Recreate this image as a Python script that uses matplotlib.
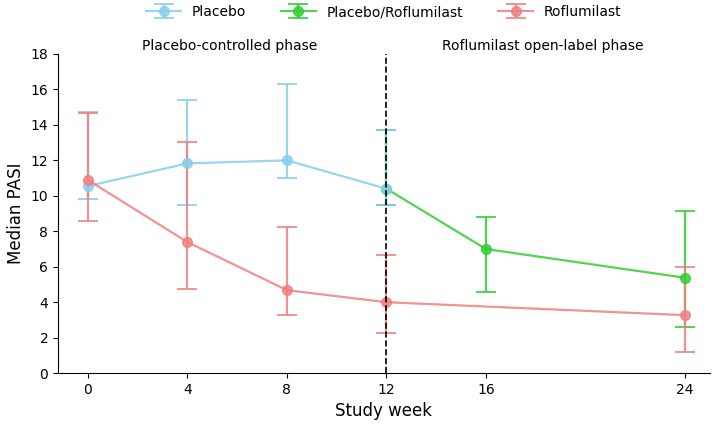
import matplotlib
matplotlib.use("Agg")
import matplotlib.pyplot as plt

weeks_pbo = [0, 4, 8, 12]
pbo = [10.55, 11.83, 12.0, 10.4]
pbo_lo = [9.8, 9.48, 11.0, 9.5]
pbo_hi = [14.7, 15.4, 16.3, 13.7]

weeks_switch = [12, 16, 24]
sw = [10.4, 7.0, 5.38]
sw_lo = [9.5, 4.59, 2.6]
sw_hi = [13.7, 8.82, 9.15]

weeks_rof = [0, 4, 8, 12, 24]
rof = [10.89, 7.39, 4.68, 4.0, 3.27]
rof_lo = [8.6, 4.74, 3.26, 2.27, 1.2]
rof_hi = [14.65, 13.04, 8.24, 6.66, 6.0]

xticks = [0, 4, 8, 12, 16, 24]

fig = plt.figure(figsize=(7.17, 4.25), dpi=100)
ax = fig.add_axes([0.081, 0.122, 0.909, 0.751])

def plot_series(x, y, lo, hi, color, label):
    yerr = [[v - l for v, l in zip(y, lo)], [h - v for v, h in zip(y, hi)]]
    return ax.errorbar(x, y, yerr=yerr, color=color, marker='o', markersize=7,
                       linewidth=1.6, elinewidth=1.6, capsize=7.5, capthick=1.4,
                       alpha=0.85, label=label)

h_sw = plot_series(weeks_switch, sw, sw_lo, sw_hi, '#32CD32', 'Placebo/Roflumilast')
h_pbo = plot_series(weeks_pbo, pbo, pbo_lo, pbo_hi, '#87CEEB', 'Placebo')
h_rof = plot_series(weeks_rof, rof, rof_lo, rof_hi, '#F08080', 'Roflumilast')

ax.axvline(12, color='black', linestyle='--', linewidth=1.2, zorder=3)

ax.set_xlim(-1.2, 25)
ax.set_ylim(0, 18)
ax.set_xticks(xticks)
ax.set_yticks(range(0, 19, 2))
ax.tick_params(labelsize=10)
ax.set_xlabel('Study week', fontsize=12)
ax.set_ylabel('Median PASI', fontsize=12)
ax.spines['top'].set_visible(False)
ax.spines['right'].set_visible(False)

ax.text(5.7, 18.05, 'Placebo-controlled phase', ha='center', va='bottom', fontsize=10)
ax.text(18.3, 18.05, 'Roflumilast open-label phase', ha='center', va='bottom', fontsize=10)

ax.legend([h_pbo, h_sw, h_rof], ['Placebo', 'Placebo/Roflumilast', 'Roflumilast'],
          loc='lower center', bbox_to_anchor=(0.5, 1.07), ncol=3, frameon=False,
          fontsize=10, handlelength=2.5, columnspacing=2.5)

fig.savefig('out.png', dpi=100)
